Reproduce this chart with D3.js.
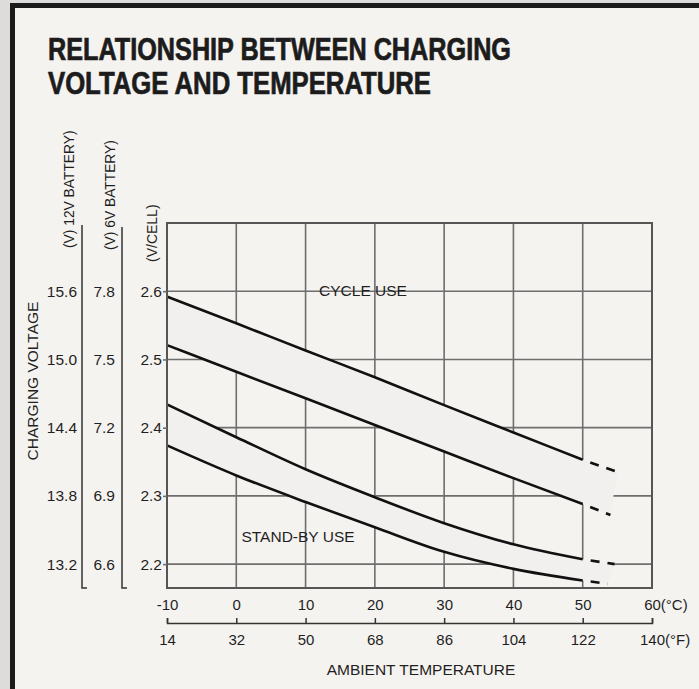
<!DOCTYPE html>
<html>
<head>
<meta charset="utf-8">
<script src="https://cdn.jsdelivr.net/npm/d3@7"></script>
<style>
  html, body { margin: 0; padding: 0; background: #dddcdb; }
  svg { display: block; }
</style>
</head>
<body>
<div id="chart"></div>
<script>
/*
 *  DATA
 */

var titleLines = ["RELATIONSHIP BETWEEN CHARGING", "VOLTAGE AND TEMPERATURE"];

var tempC = [-10, 0, 10, 20, 30, 40, 50, 60];
var tempF = [14, 32, 50, 68, 86, 104, 122, 140];

var cellTicks = [2.6, 2.5, 2.4, 2.3, 2.2];
var v12Labels = ["15.6", "15.0", "14.4", "13.8", "13.2"];
var v6Labels = ["7.8", "7.5", "7.2", "6.9", "6.6"];

// solid part of the curves, read at every 10 degC (V/cell)
var curveTemps = [-10, 0, 10, 20, 30, 40, 50];
var cycleUpper = [2.592, 2.553, 2.513, 2.474, 2.433, 2.393, 2.353];
var cycleLower = [2.521, 2.482, 2.443, 2.404, 2.365, 2.326, 2.288];
var standbyUpper = [2.434, 2.386, 2.339, 2.298, 2.260, 2.229, 2.207];
var standbyLower = [2.374, 2.330, 2.291, 2.254, 2.218, 2.193, 2.176];

// where the dashed continuation of each curve stops
var dashEndTemp = [55, 54, 54.6, 53.6];
var dashEndVolt = [2.335, 2.272, 2.200, 2.171];

/*
 *  SETUP
 */

var width = 699;
var height = 689;

var svg = d3.select("#chart")
    .append("svg")
    .attr("width", width)
    .attr("height", height);

var font = "'Liberation Sans', Arial, Helvetica, sans-serif";
var ink = "#1f1f1f";

var x = d3.scaleLinear()
    .domain([-10, 60])
    .range([167, 652]);

var y = d3.scaleLinear()
    .domain([2.165, 2.7])
    .range([588, 223]);

var plotLeft = x(-10), plotRight = x(60), plotTop = y(2.7), plotBottom = y(2.165);

// frame
svg.append("rect")
    .attr("x", 12.5)
    .attr("y", 5.5)
    .attr("width", 900)
    .attr("height", 900)
    .attr("fill", "#f5f3f0")
    .attr("stroke", "#1b1b1b")
    .attr("stroke-width", 5);

// title: bold sans squeezed to the width of the condensed original
svg.selectAll(".title")
    .data(titleLines)
    .enter()
    .append("text")
    .attr("class", "title")
    .attr("x", 48)
    .attr("y", function(d, i) { return 60 + i * 34; })
    .attr("textLength", function(d, i) { return i == 0 ? 463 : 383; })
    .attr("lengthAdjust", "spacingAndGlyphs")
    .attr("font-family", font)
    .attr("font-weight", "bold")
    .attr("font-size", 30.5)
    .attr("fill", "#1c1c1c")
    .attr("stroke", "#1c1c1c")
    .attr("stroke-width", 0.7)
    .text(function(d) { return d; });

/*
 *  GRID
 */

var grid = svg.append("g")
    .attr("stroke", "#6e6e6e")
    .attr("stroke-width", 1.6);

grid.selectAll(".vgrid")
    .data(tempC.slice(1, -1))
    .enter()
    .append("line")
    .attr("x1", function(d) { return x(d); })
    .attr("x2", function(d) { return x(d); })
    .attr("y1", plotTop)
    .attr("y2", plotBottom);

grid.selectAll(".hgrid")
    .data(cellTicks)
    .enter()
    .append("line")
    .attr("x1", plotLeft)
    .attr("x2", plotRight)
    .attr("y1", function(d) { return y(d); })
    .attr("y2", function(d) { return y(d); });

/*
 *  BANDS AND CURVES
 */

function points(values, k) {
    var pts = curveTemps.map(function(t, i) {
        return [t, values[i]];
    });
    return { solid: pts, dash: [pts[pts.length - 1], [dashEndTemp[k], dashEndVolt[k]]] };
}

var curves = [
    points(cycleUpper, 0),
    points(cycleLower, 1),
    points(standbyUpper, 2),
    points(standbyLower, 3)
];

var valueline = d3.line()
    .x(function(d) { return x(d[0]); })
    .y(function(d) { return y(d[1]); })
    .curve(d3.curveMonotoneX);

var straight = d3.line()
    .x(function(d) { return x(d[0]); })
    .y(function(d) { return y(d[1]); });

function band(up, low) {
    var upPts = up.solid.concat([up.dash[1]]);
    var lowPts = low.solid.concat([low.dash[1]]);
    var back = valueline(lowPts.slice().reverse());
    return valueline(upPts) + "L" + back.slice(1) + "Z";
}

svg.append("path")
    .attr("d", band(curves[0], curves[1]))
    .attr("fill", "#f1f0ee");

svg.append("path")
    .attr("d", band(curves[2], curves[3]))
    .attr("fill", "#f1f0ee");

curves.forEach(function(c) {
    svg.append("path")
        .datum(c.solid)
        .attr("fill", "none")
        .attr("stroke", "#111")
        .attr("stroke-width", 2.6)
        .attr("d", valueline);

    svg.append("path")
        .datum(c.dash)
        .attr("fill", "none")
        .attr("stroke", "#111")
        .attr("stroke-width", 2.6)
        .attr("stroke-dasharray", "9,8")
        .attr("stroke-dashoffset", 9)
        .attr("d", straight);
});

// plot border
svg.append("rect")
    .attr("x", plotLeft)
    .attr("y", plotTop)
    .attr("width", plotRight - plotLeft)
    .attr("height", plotBottom - plotTop)
    .attr("fill", "none")
    .attr("stroke", "#555")
    .attr("stroke-width", 2);

// in-plot labels
svg.append("text")
    .attr("x", 363)
    .attr("y", 295.5)
    .attr("text-anchor", "middle")
    .attr("font-family", font)
    .attr("font-size", 15.5)
    .attr("fill", ink)
    .text("CYCLE USE");

svg.append("text")
    .attr("x", 298)
    .attr("y", 542)
    .attr("text-anchor", "middle")
    .attr("font-family", font)
    .attr("font-size", 15.5)
    .attr("fill", ink)
    .text("STAND-BY USE");

/*
 *  LEFT AXES
 */

function styleAxis(g, size) {
    g.selectAll("text")
        .attr("font-family", font)
        .attr("font-size", size)
        .attr("fill", ink);
    g.selectAll("line").attr("stroke", "#6e6e6e").attr("stroke-width", 1.6);
    g.select(".domain").remove();
}

var cellAxis = svg.append("g")
    .attr("transform", "translate(" + plotLeft + ",0)")
    .call(d3.axisLeft(y).tickValues(cellTicks).tickSize(4).tickPadding(1).tickFormat(d3.format(".1f")));
styleAxis(cellAxis, 15.5);

var v6Axis = svg.append("g")
    .attr("transform", "translate(115,0)")
    .call(d3.axisLeft(y).tickValues(cellTicks).tickSize(0).tickPadding(0)
        .tickFormat(function(d, i) { return v6Labels[i]; }));
styleAxis(v6Axis, 15.5);

var v12Axis = svg.append("g")
    .attr("transform", "translate(77,0)")
    .call(d3.axisLeft(y).tickValues(cellTicks).tickSize(0).tickPadding(0)
        .tickFormat(function(d, i) { return v12Labels[i]; }));
styleAxis(v12Axis, 15.5);

// brackets beside the battery columns
[[82, 225], [122, 227]].forEach(function(b) {
    svg.append("path")
        .attr("d", "M" + b[0] + "," + b[1] + "V" + plotBottom + "H" + (b[0] + 5))
        .attr("fill", "none")
        .attr("stroke", "#333")
        .attr("stroke-width", 1.5);
});

function vlabel(text, xPos, yPos, size) {
    svg.append("text")
        .attr("transform", "translate(" + xPos + "," + yPos + ")rotate(-90)")
        .attr("font-family", font)
        .attr("font-size", size)
        .attr("fill", ink)
        .text(text);
}

vlabel("(V) 12V BATTERY)", 74, 248, 13.8);
vlabel("(V) 6V BATTERY)", 114.5, 250, 13.8);
vlabel("(V/CELL)", 157, 262, 14);

svg.append("text")
    .attr("transform", "translate(37.5,381)rotate(-90)")
    .attr("text-anchor", "middle")
    .attr("font-family", font)
    .attr("font-size", 15.5)
    .attr("fill", ink)
    .text("CHARGING VOLTAGE");

/*
 *  BOTTOM AXES
 */

function unitLabel(g, unit) {
    var last = g.selectAll(".tick text").filter(function(d) { return d == 60; });
    var w = last.node().getComputedTextLength();
    last.attr("text-anchor", "start")
        .attr("x", -w / 2)
        .append("tspan")
        .text(unit);
}

var cAxis = svg.append("g")
    .attr("transform", "translate(0," + plotBottom + ")")
    .call(d3.axisBottom(x).tickValues(tempC).tickSize(0).tickPadding(11.5).tickFormat(String));
styleAxis(cAxis, 15);
unitLabel(cAxis, "(°C)");

var fAxis = svg.append("g")
    .attr("transform", "translate(0,623)")
    .call(d3.axisBottom(x).tickValues(tempC).tickSizeInner(-5).tickSizeOuter(-5).tickPadding(11.5)
        .tickFormat(function(d, i) { return tempF[i]; }));
fAxis.selectAll("text")
    .attr("font-family", font)
    .attr("font-size", 15)
    .attr("fill", ink);
fAxis.selectAll("line, .domain").attr("stroke", "#333").attr("stroke-width", 1.5);
unitLabel(fAxis, "(°F)");

svg.append("text")
    .attr("x", 421)
    .attr("y", 675)
    .attr("text-anchor", "middle")
    .attr("font-family", font)
    .attr("font-size", 15.5)
    .attr("fill", ink)
    .text("AMBIENT TEMPERATURE");
</script>
</body>
</html>
